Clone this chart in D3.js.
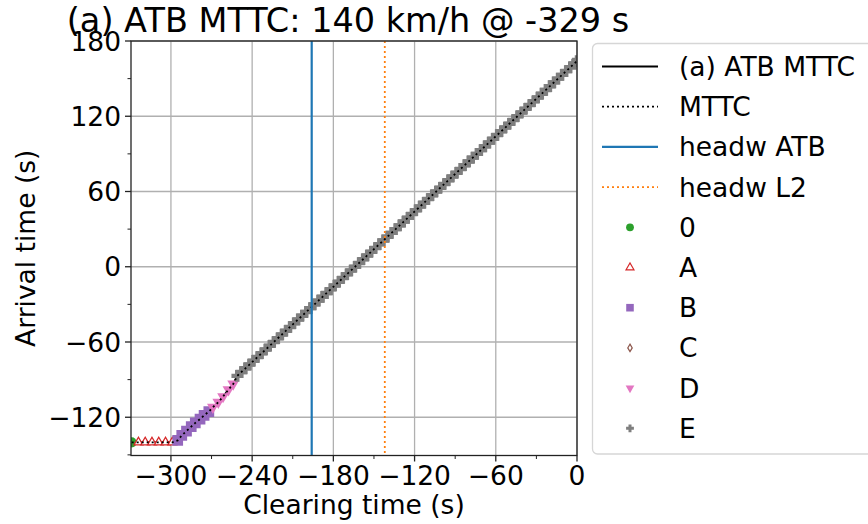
<!DOCTYPE html>
<html><head><meta charset="utf-8">
<script src="https://cdn.jsdelivr.net/npm/d3@7"></script>
<style>body{margin:0;background:#fff}svg{display:block}text{font-family:"DejaVu Sans",sans-serif;fill:#000}</style>
</head><body><svg id="c" width="868" height="524"></svg>
<script>
const titleText = "(a) ATB MTTC: 140 km/h @ -329 s";
const xLabel = "Clearing time (s)";
const yLabel = "Arrival time (s)";
const xTicks = [-300, -240, -180, -120, -60, 0];
const xMinor = [-270, -210, -150, -90, -30];
const yTicks = [-120, -60, 0, 60, 120, 180];
const yMinor = [-150, -90, -30, 30, 90, 150];
const headwATB = -196;
const headwL2 = -142;
// series
const zeroX = [-329];
const zeroY = [-140];
const aX = [-324, -319, -314, -309, -304, -299];
const aY = [-140, -140, -140, -140, -140, -140];
const bX = [-295, -292, -288.5, -285, -282, -278.5, -275.5, -272];
const bY = [-138.5, -134.5, -131, -127.5, -124.5, -121.5, -118.5, -115.5];
const cX = [];
const cY = [];
const dX = [-269, -265, -261.5, -257.5, -254];
const dY = [-112, -108, -103.5, -98, -93.5];
const eX = [-251,-248,-245,-242,-239,-236,-233,-230,-227,-224,-221,-218,-215,-212,-209,-206,-203,-200,-197,-194,-191,-188,-185,-182,-179,-176,-173,-170,-167,-164,-161,-158,-155,-152,-149,-146,-143,-140,-137,-134,-131,-128,-125,-122,-119,-116,-113,-110,-107,-104,-101,-98,-95,-92,-89,-86,-83,-80,-77,-74,-71,-68,-65,-62,-59,-56,-53,-50,-47,-44,-41,-38,-35,-32,-29,-26,-23,-20,-17,-14,-11,-8,-5,-2,0];
const eY = [-87,-84,-81,-78,-75,-72,-69,-66,-63,-60,-57,-54,-51,-48,-45,-42,-39,-36,-33,-30,-27,-24,-21,-18,-15,-12,-9,-6,-3,0,3,6,9,12,15,18,21,24,27,30,33,36,39,42,45,48,51,54,57,60,63,66,69,72,75,78,81,84,87,90,93,96,99,102,105,108,111,114,117,120,123,126,129,132,135,138,141,144,147,150,153,156,159,162,164];
const legendLabels = ["(a) ATB MTTC", "MTTC", "headw ATB", "headw L2", "0", "A", "B", "C", "D", "E"];

const svg = d3.select("#c");
const L = 131, R = 577, T = 41, B = 455.5;
const x = d3.scaleLinear().domain([-329.5, 0]).range([L, R]);
const y = d3.scaleLinear().domain([-150.5, 180]).range([B, T]);
const FS = 26.5;

svg.append("defs").append("clipPath").attr("id", "clip")
  .append("rect").attr("x", L).attr("y", T).attr("width", R - L).attr("height", B - T);

// grid
const g = svg.append("g");
g.selectAll(".gx").data(xTicks).join("line")
  .attr("x1", d => x(d)).attr("x2", d => x(d)).attr("y1", T).attr("y2", B)
  .attr("stroke", "#b0b0b0").attr("stroke-width", 1.3);
g.selectAll(".gy").data(yTicks).join("line")
  .attr("y1", d => y(d)).attr("y2", d => y(d)).attr("x1", L).attr("x2", R)
  .attr("stroke", "#b0b0b0").attr("stroke-width", 1.3);

const plot = svg.append("g").attr("clip-path", "url(#clip)");

// combined series
const allPts = [];
zeroX.forEach((v, i) => allPts.push([v, zeroY[i]]));
aX.forEach((v, i) => allPts.push([v, aY[i]]));
bX.forEach((v, i) => allPts.push([v, bY[i]]));
cX.forEach((v, i) => allPts.push([v, cY[i]]));
dX.forEach((v, i) => allPts.push([v, dY[i]]));
eX.forEach((v, i) => allPts.push([v, eY[i]]));
allPts.sort((p, q) => p[0] - q[0]);
const line = d3.line().x(d => x(d[0])).y(d => y(d[1]));

plot.append("path").attr("d", line(allPts)).attr("fill", "none")
  .attr("stroke", "#000").attr("stroke-width", 1.8);

// markers
function sym(type, size) { return d3.symbol().type(type).size(size)(); }
const triDown = { draw(ctx, size) { const s = Math.sqrt(size / 0.433) ; const h = s * 0.866; ctx.moveTo(-s/2, -h/3); ctx.lineTo(s/2, -h/3); ctx.lineTo(0, 2*h/3); ctx.closePath(); } };
const triUp = { draw(ctx, size) { const s = Math.sqrt(size / 0.433) ; const h = s * 0.866; ctx.moveTo(-s/2, h/3); ctx.lineTo(s/2, h/3); ctx.lineTo(0, -2*h/3); ctx.closePath(); } };
const plusFill = { draw(ctx, size) { const a = Math.sqrt(size) / 2, b = a / 2.6; ctx.moveTo(-b,-a); ctx.lineTo(b,-a); ctx.lineTo(b,-b); ctx.lineTo(a,-b); ctx.lineTo(a,b); ctx.lineTo(b,b); ctx.lineTo(b,a); ctx.lineTo(-b,a); ctx.lineTo(-b,b); ctx.lineTo(-a,b); ctx.lineTo(-a,-b); ctx.lineTo(-b,-b); ctx.closePath(); } };
const diamondThin = { draw(ctx, size) { const a = Math.sqrt(size) / 2; ctx.moveTo(0,-a); ctx.lineTo(a*0.6,0); ctx.lineTo(0,a); ctx.lineTo(-a*0.6,0); ctx.closePath(); } };

const series = [
  { xs: zeroX, ys: zeroY, type: d3.symbolCircle, size: 80, fill: "#2ca02c", stroke: "none", ls: 0.6 },
  { xs: aX, ys: aY, type: triUp, size: 34, fill: "#fff", stroke: "#d62728", ls: 0.8 },
  { xs: bX, ys: bY, type: d3.symbolSquare, size: 115, fill: "#9467bd", stroke: "none", ls: 0.5 },
  { xs: cX, ys: cY, type: diamondThin, size: 70, fill: "#fff", stroke: "#8c564b", ls: 0.8 },
  { xs: dX, ys: dY, type: triDown, size: 60, fill: "#e377c2", stroke: "none", ls: 0.55 },
  { xs: eX, ys: eY, type: plusFill, size: 135, fill: "#7f7f7f", stroke: "none", ls: 0.45 }
];
series.forEach(s => {
  plot.append("g").selectAll("path").data(s.xs.map((v, i) => [v, s.ys[i]])).join("path")
    .attr("transform", d => `translate(${x(d[0])},${y(d[1])})`)
    .attr("d", sym(s.type, s.size)).attr("fill", s.fill)
    .attr("stroke", s.stroke).attr("stroke-width", 1.3);
});

plot.append("path").attr("d", line(allPts)).attr("fill", "none")
  .attr("stroke", "#000").attr("stroke-width", 1.8).attr("stroke-dasharray", "2,3");

// vertical lines
plot.append("line").attr("x1", x(headwATB)).attr("x2", x(headwATB)).attr("y1", T).attr("y2", B)
  .attr("stroke", "#1f77b4").attr("stroke-width", 2.2);
plot.append("line").attr("x1", x(headwL2)).attr("x2", x(headwL2)).attr("y1", T).attr("y2", B)
  .attr("stroke", "#ff7f0e").attr("stroke-width", 1.8).attr("stroke-dasharray", "2,3");

// frame
svg.append("rect").attr("x", L).attr("y", T).attr("width", R - L).attr("height", B - T)
  .attr("fill", "none").attr("stroke", "#222").attr("stroke-width", 1.3);

// ticks
const ax = svg.append("g");
ax.selectAll(".tx").data(xTicks).join("line").attr("x1", d => x(d)).attr("x2", d => x(d))
  .attr("y1", B).attr("y2", B + 6).attr("stroke", "#222").attr("stroke-width", 1.3);
ax.selectAll(".mx").data(xMinor).join("line").attr("x1", d => x(d)).attr("x2", d => x(d))
  .attr("y1", B).attr("y2", B + 3.5).attr("stroke", "#222").attr("stroke-width", 1);
ax.selectAll(".ty").data(yTicks).join("line").attr("y1", d => y(d)).attr("y2", d => y(d))
  .attr("x1", L - 6).attr("x2", L).attr("stroke", "#222").attr("stroke-width", 1.3);
ax.selectAll(".my").data(yMinor).join("line").attr("y1", d => y(d)).attr("y2", d => y(d))
  .attr("x1", L - 3.5).attr("x2", L).attr("stroke", "#222").attr("stroke-width", 1);

const fmt = d => (d < 0 ? "\u2212" + Math.abs(d) : String(d));
ax.selectAll(".lx").data(xTicks).join("text").attr("x", d => x(d)).attr("y", 485)
  .attr("text-anchor", "middle").attr("font-size", FS).text(fmt);
ax.selectAll(".ly").data(yTicks).join("text").attr("x", L - 10).attr("y", d => y(d))
  .attr("dy", "0.36em").attr("text-anchor", "end").attr("font-size", FS).text(fmt);

svg.append("text").attr("x", (L + R) / 2).attr("y", 514).attr("text-anchor", "middle")
  .attr("font-size", FS).text(xLabel);
svg.append("text").attr("transform", `translate(35,${(T + B) / 2}) rotate(-90)`)
  .attr("text-anchor", "middle").attr("font-size", FS).text(yLabel);
svg.append("text").attr("x", 348).attr("y", 32).attr("text-anchor", "middle")
  .attr("font-size", 33.5).text(titleText);

// legend
const lg = svg.append("g");
lg.append("rect").attr("x", 592.5).attr("y", 43.5).attr("width", 300).attr("height", 410.5)
  .attr("rx", 5).attr("fill", "#fff").attr("fill-opacity", 0.8).attr("stroke", "#d6d6d6").attr("stroke-width", 1.3);
const rowY = i => 66.5 + i * 40.2;
const lineStyles = [
  { c: "#000", w: 2, dash: null },
  { c: "#000", w: 1.8, dash: "2,3" },
  { c: "#1f77b4", w: 2.2, dash: null },
  { c: "#ff7f0e", w: 1.8, dash: "2,3" }
];
lineStyles.forEach((s, i) => {
  lg.append("line").attr("x1", 602).attr("x2", 658).attr("y1", rowY(i)).attr("y2", rowY(i))
    .attr("stroke", s.c).attr("stroke-width", s.w).attr("stroke-dasharray", s.dash);
});
series.forEach((s, i) => {
  lg.append("path").attr("transform", `translate(630,${rowY(i + 4)})`)
    .attr("d", sym(s.type, s.size * s.ls)).attr("fill", s.fill).attr("stroke", s.stroke).attr("stroke-width", 1.2);
});
legendLabels.forEach((t, i) => {
  lg.append("text").attr("x", 679).attr("y", rowY(i)).attr("dy", "0.36em")
    .attr("font-size", FS).text(t);
});
</script></body></html>
